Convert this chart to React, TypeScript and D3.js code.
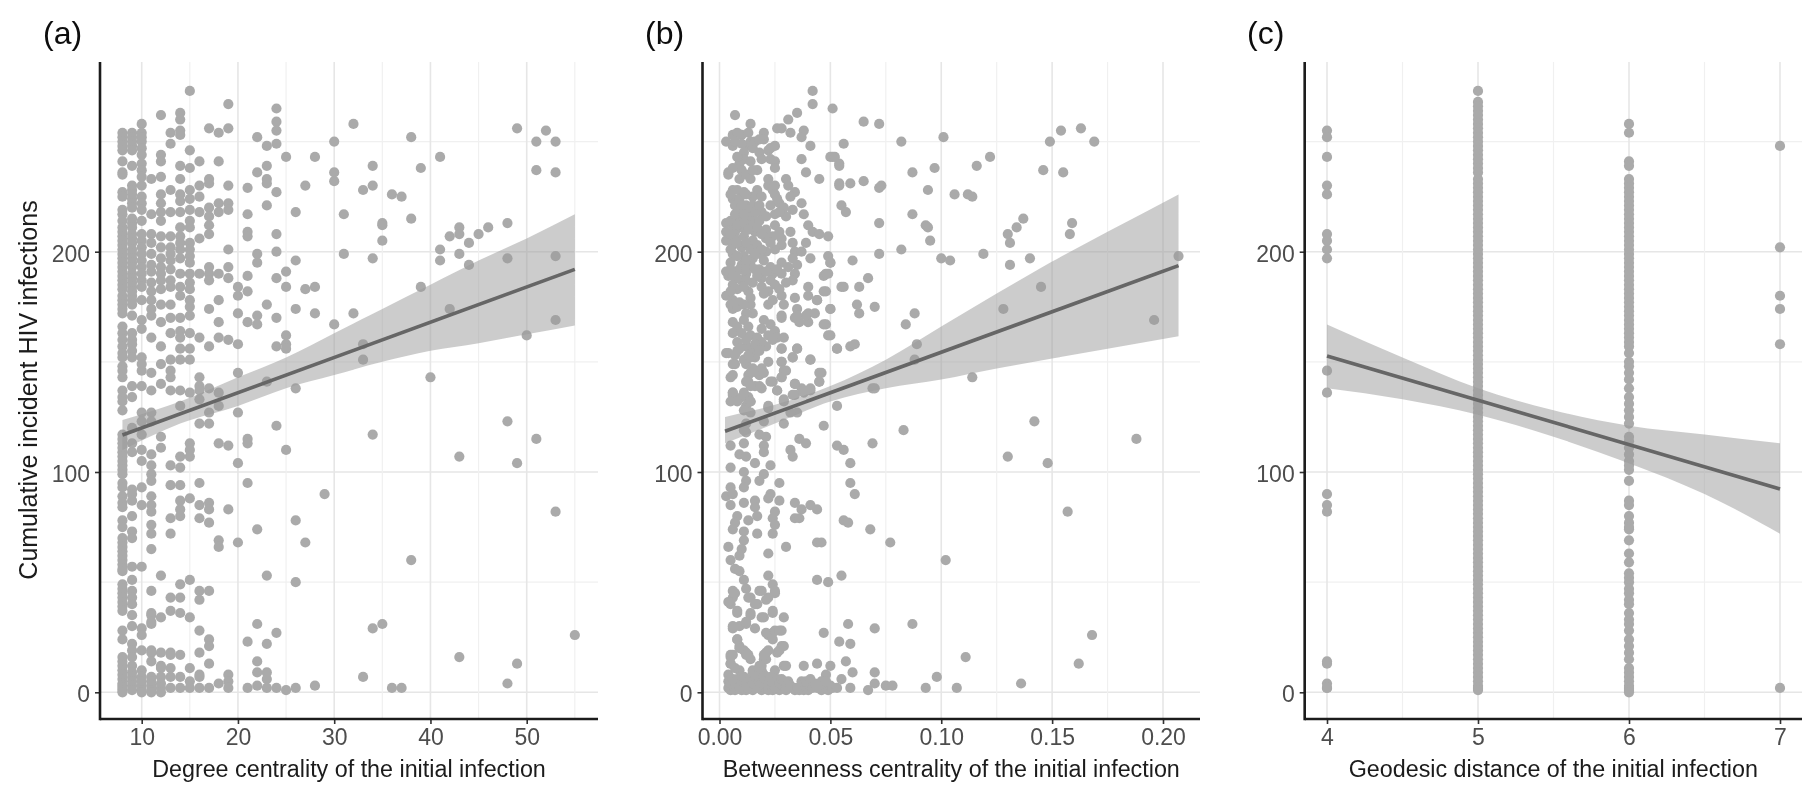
import { useEffect, useRef } from 'react'
import * as d3 from 'd3'

// panel (a): degree -> infections at that degree
const degreeColumns: [number, number[]][] = [
  [8, [254,252,250,248,246,241,236,235,227,225,219,217,214,211,209,207,205,203,201,199,197,195,193,191,189,187,185,183,180,178,176,174,172,166,163,160,157,154,152,148,146,143,137,134,132,128,117,115,113,111,109,107,105,103,101,99,95,93,89,86,84,78,75,70,68,66,64,62,60,58,56,55,49,47,45,43,41,39,37,28,24,16,14,12,10,8,6,4,3,2,1,0]],
  [9, [254,252,250,248,246,239,230,228,226,224,222,220,215,213,211,208,206,204,201,199,197,195,193,190,188,186,184,182,180,178,176,171,163,160,158,155,152,139,134,120,113,109,92,90,87,80,73,70,57,51,46,43,40,35,30,22,19,16,12,9,7,5,3,1]],
  [10, [258,254,252,250,247,244,240,237,234,230,225,222,219,214,208,205,202,199,196,193,190,187,184,178,169,165,152,149,146,139,127,123,117,110,105,93,85,57,29,26,19,10,7,5,3,1,0]],
  [11, [233,217,208,204,199,194,191,186,182,178,174,171,161,145,137,127,123,108,103,99,96,89,85,82,76,72,65,46,36,31,35,32,19,18,14,7,5,3,1,0]],
  [12, [262,244,241,234,226,222,218,214,207,202,197,193,190,187,183,176,168,157,149,140,116,111,53,34,18,12,11,7,4,2,0]],
  [13, [254,249,228,218,207,202,199,196,192,187,184,176,170,163,151,146,143,137,103,94,79,72,43,37,18,17,11,7,2]],
  [14, [263,260,255,253,239,233,226,223,218,211,207,204,201,197,190,184,180,170,164,161,156,151,137,130,107,102,94,87,83,80,49,43,36,17,7,2]],
  [15, [273,246,238,228,224,219,214,211,204,201,198,195,190,186,183,178,175,171,163,156,151,136,113,110,107,88,51,34,11,5,2]],
  [16, [241,230,225,218,206,190,161,143,139,137,133,122,95,85,79,46,42,28,18,8,7,2]],
  [17, [256,233,231,220,216,212,208,193,190,187,174,157,138,127,122,86,83,77,46,24,21,13,2]],
  [18, [254,241,222,218,190,178,168,161,136,130,113,69,66,4]],
  [19, [267,256,230,222,219,201,193,188,160,112,83,8,5,2]],
  [20, [184,180,172,158,145,127,104,68]],
  [21, [229,217,209,207,189,182,168,115,113,95,23,2]],
  [22, [252,236,199,195,171,167,74,31,14,9,3]],
  [23, [248,239,233,231,221,176,141,53,22,9,6,2]],
  [24, [265,259,255,249,227,208,200,188,170,157,121,27,2]],
  [25, [243,191,184,162,158,156,110,1]],
  [26, [218,196,174,138,78,50,2]],
  [27, [230,183,68]],
  [28, [243,184,172,3]],
  [29, [90]],
  [30, [250,236,232,167]],
  [31, [217,199]],
  [32, [258,172]],
  [33, [228,158,151,7]],
  [34, [239,230,197,117,29]],
  [35, [213,212,205,31]],
  [36, [226,2]],
  [37, [225,2]],
  [38, [252,215,60]],
  [39, [238,184]],
  [40, [143]],
  [41, [243,201,196]],
  [42, [207,174]],
  [43, [211,208,199,107,16]],
  [44, [204,194]],
  [45, [208]],
  [46, [211]],
  [48, [213,197,123,4]],
  [49, [256,104,13]],
  [50, [162]],
  [51, [250,237,115]],
  [52, [255]],
  [53, [250,236,198,169,82]],
  [55, [26]],
]

// panel (b): betweenness in thousandths, infections
const betweennessPoints: [number, number][] = [
  [7,262],[14,258],[31,260],[35,263],[26,256],[28,256],[32,254],[38,255],[37,252],[41,248],[37,242],[39,236],[45,233],[51,243],[54,240],
  [3,250],[6,253],[8,254],[6,248],[10,253],[13,254],[14,250],[20,254],[20,251],[12,248],[15,247],[25,248],[22,246],[18,245],[19,242],[11,245],[11,242],[9,240],[10,237],[4,236],[4,235],[9,233],[12,235],[14,233],[17,237],[23,242],[25,241],[25,238],
  [22,233],[30,233],[31,230],[22,230],[25,230],[24,228],[25,226],[34,227],[32,225],[37,222],[27,222],[29,220],[33,219],[30,216],[38,217],[25,217],
  [6,228],[6,224],[17,228],[15,225],[12,226],[9,224],[7,221],[9,219],[12,221],[15,221],[17,219],[19,218],[21,216],[12,216],[9,215],[15,215],[18,214],
  [3,213],[6,212],[3,209],[7,209],[10,211],[14,212],[16,209],[21,210],[25,212],[27,209],[32,209],[40,212],[42,209],[45,208],[49,207],[28,206],[24,207],[3,205],[7,206],[11,207],[15,205],[39,204],[33,204],[21,206],[28,203],[25,201],[21,200],[18,199],[6,203],[10,202],[14,201],[34,200],[37,200],[49,198],[6,199],[11,198],[15,197],[41,197],[20,196],[33,197],[50,195],[5,195],[10,194],[14,194],[28,195],[35,194],[23,193],
  [3,191],[7,191],[12,190],[18,192],[31,193],[49,190],[47,189],[24,190],[28,190],[34,190],[4,189],[10,187],[15,186],[19,188],[33,187],[6,185],[23,187],[30,186],[25,185],[19,184],[22,182],[40,184],[55,184],[13,182],[3,180],[28,180],[34,179],[48,182],[40,180],[6,178],[14,179],[9,177],[44,178],[6,174],[14,176],[22,176],[35,174],[50,174],[15,172],[40,172],[43,172],[28,170],[34,170],[36,168],[40,168],[6,168],[48,167],[20,169],[23,167],[8,166],[19,165],[25,164],[50,162],[6,163],[10,163],[14,162],[22,162],[26,161],[29,161],[8,159],[17,161],
  [12,157],[21,157],[28,156],[35,156],[53,156],[3,154],[8,155],[15,155],[33,152],[16,152],[41,151],[7,149],[12,149],[22,150],[28,150],[15,147],[19,147],[30,146],[6,144],[46,145],[13,144],[18,144],[28,143],[24,141],[45,141],[13,141],[16,139],[19,138],[34,140],[37,138],[41,138],[26,137],[6,136],[34,135],[38,136],[10,134],[13,134],[29,132],[14,132],[22,130],[12,130],[6,135],
  [42,273],[42,267],[51,265],[65,259],[72,258],[82,250],[101,252],[149,250],[56,249],[50,243],[52,243],[54,239],[87,236],[97,238],[116,239],[122,243],[146,237],[65,232],[59,231],[54,231],[54,230],[72,229],[73,230],[94,228],[106,226],[112,226],[114,225],[55,221],[57,218],[87,217],[72,213],[93,212],[94,211],[137,215],[134,211],[130,208],[131,204],[95,205],[82,201],[72,199],[119,199],[60,196],[100,197],[104,196],[140,197],[131,194],[67,188],[63,184],[56,184],[145,184],[47,182],[48,190],[50,195],[128,174],[88,172],[84,167],[70,175],[62,176],[63,172],[50,174],[47,167],[44,178],[39,171],[35,171],[28,171],
  [163,256],[169,250],[154,255],[155,236],[159,213],[158,208],[207,198],[196,169],[188,115],[157,82],[168,26],
  [49,162],[53,156],[59,157],[61,158],[35,156],[28,156],[41,151],[33,152],[28,150],[89,158],[88,151],[45,145],[45,141],[29,146],[28,143],[23,141],[26,137],[34,140],[38,137],[41,137],[33,135],[29,133],[69,138],[70,138],[114,143],[53,130],[22,129],[35,127],[32,127],[20,123],[29,122],[47,121],[83,119],[142,123],[69,113],[36,115],[39,113],[18,117],[21,116],[20,112],[20,109],[12,118],[11,113],[5,112],[32,110],[33,107],[53,112],[56,110],[59,104],[130,107],[148,104],[9,108],[12,107],[16,104],[23,103],[5,102],[11,100],[20,99],[18,96],[27,95],[59,95],[61,90],[12,96],[11,93],[5,93],[3,89],[6,90],[5,85],[23,90],[22,88],[11,86],[16,87],[16,84],[27,87],[34,86],[37,83],[41,85],[44,83],[25,82],[24,79],[17,80],[13,78],[8,80],[7,77],[34,79],[36,79],[56,78],[58,77],[68,74],[25,76],[6,74],[24,72],[17,72],[11,73],[11,69],[44,68],[46,68],[77,68],[30,66],[4,66],[10,65],[22,63],[9,62],[102,60],[5,60],[7,56],[9,55],[22,53],[55,53],[44,51],[49,50],[11,51],[12,47],[24,49],[25,45],[18,46],[6,43],[14,43],[22,43],[5,40],[17,40],[8,36],[24,36],[14,35],[20,34],[29,34],[58,31],[70,29],[87,31],[6,29],[9,30],[12,31],[16,29],[28,28],[24,27],[22,26],[47,27],[8,24],[54,23],[59,22],[28,21],[11,19],[13,17],[21,18],[26,18],[5,17],[20,15],[111,16],[5,13],[38,12],[44,13],[50,12],[57,14],[29,12],[19,12],
  [4,154],[7,153],[11,151],[6,149],[14,152],[5,143],[14,145],[17,145],[12,141],[6,136],[11,136],[5,132],[14,132],[11,128],[14,127],[8,132],[12,122],[11,119],[20,145],[18,139],[14,139],
  [8,24],[9,21],[12,18],[14,15],[5,16],[5,13],[9,10],[4,8],[15,10],[19,10],[21,15],[22,19],[25,10],[27,19],[29,21],[30,12],[48,8],[55,6],[60,9],[70,9],[98,7],[70,4],[75,3],[78,3],[67,1],[59,2],[93,2],[107,2],[136,4],[162,13],
  [4,2],[5,1],[6,3],[7,1],[8,2],[9,4],[10,1],[11,3],[12,1],[13,5],[14,2],[15,1],[16,3],[17,5],[18,2],[19,1],[20,4],[21,2],[22,1],[23,3],[24,1],[25,5],[26,2],[27,1],[28,3],[29,2],[30,1],[31,2],[36,1],[37,3],[38,1],[39,2],[40,1],[41,3],[42,2],[45,3],[46,1],[47,4],[48,2],[49,1],[50,3],[51,2],[53,2],
]

// second pass over the thick parts of the (b) cloud
const betweennessDense: [number, number][] = [
  [5,214],[8,212],[11,213],[13,210],[17,211],[19,208],[5,208],[8,204],[12,204],[17,203],[19,201],[23,204],[5,201],[8,198],[12,196],[16,199],[9,192],[12,192],[16,192],[5,192],[8,188],[12,187],[6,189],[17,189],[21,191],[26,192],[8,183],[11,184],[5,182],[27,183],[20,181],[24,178],[29,176],[5,176],[8,175],[11,176],[12,172],[11,169],[13,166],[24,160],[19,159],[16,158],[12,160],[9,156],[13,153],[18,155],
  [5,226],[8,228],[11,227],[10,221],[7,217],[13,219],[11,217],[16,218],[18,221],[19,225],[26,224],[27,218],[23,221],[6,238],[8,243],[14,241],[15,237],[7,250],[10,249],[16,250],[18,251],[23,247],
  [6,46],[4,41],[7,45],[13,43],[16,40],[21,42],[19,46],[25,46],[14,36],[19,34],[24,37],[6,30],[12,32],[21,27],[25,28],[27,28],[24,24],[8,37],[9,20],[12,17],[20,17],[18,12],[15,9],[6,17],[7,11],[18,9],[20,8],
  [4,5],[5,4],[6,6],[7,4],[8,6],[9,2],[10,5],[11,7],[12,4],[13,2],[14,6],[15,4],[16,7],[17,2],[18,5],[19,4],[20,7],[21,5],[22,4],[23,7],[24,4],[25,2],[26,6],[27,4],[28,6],[29,5],[30,4],[31,5],[32,3],[33,2],[34,1],[35,2],[37,5],[39,5],[41,6],[43,4],[44,2],[46,5],[48,5],
]

// panel (c): geodesic distance -> infections
const geodesicFour = [255,252,243,230,226,208,205,201,197,146,136,90,85,82,14,13,4,2,2]
const geodesicFive = [273,268,266,264,262,260,258,256,254,252,250,248,246,244,242,240,238,236,233,231,229,227,225,223,221,219,217,215,213,211,209,207,205,203,201,199,197,195,193,191,189,187,185,183,181,179,177,175,173,171,169,167,165,163,161,159,157,155,153,151,149,147,145,143,141,139,137,135,133,131,129,127,125,123,121,119,117,115,113,111,109,107,105,103,101,99,97,95,93,91,89,87,85,83,81,79,77,75,73,71,69,67,65,63,61,59,57,55,53,51,49,47,45,43,41,39,37,35,33,31,29,27,25,23,21,19,17,15,13,11,9,7,5,3,2,1]
const geodesicSix = [258,254,241,239,233,231,229,227,225,223,221,219,217,215,213,211,209,207,205,203,201,199,197,195,193,191,189,187,185,183,181,179,177,175,173,171,169,167,165,163,161,159,157,154,150,148,145,142,138,134,131,128,125,122,116,114,111,108,105,103,101,96,87,85,80,77,75,74,69,63,59,54,52,50,47,45,42,40,36,33,31,28,24,21,18,15,11,9,7,5,3,2,1,0]
const geodesicSeven = [248,202,180,174,158,2]

// fitted lines and 95% bands
const degreeBandX = [8,14,20,25,30,35,40,45,50,55]
const degreeBandUpper = [123.6,132,143,152,163,174,185,196,206,217]
const degreeBandLower = [110,122,130,138,144,150,155,158.5,162.5,166.5]
const degreeLine: [number, number][] = [[8,116.8],[55,192]]

const betweenBandX = [0.0025,0.025,0.05,0.075,0.1,0.125,0.15,0.175,0.207]
const betweenBandUpper = [125,130.5,139,151,166,181,195.5,209,226]
const betweenBandLower = [113,122,132,138,142,147,151.5,156,161.6]
const betweenLine: [number, number][] = [[0.0025,118.5],[0.207,193.7]]

const geoBandX = [4,4.5,5,5.5,6,6.5,7]
const geoBandUpper = [167,152,138,128,121,117,113]
const geoBandLower = [138,133,126,116,104,90,72]
const geoLine: [number, number][] = [[4,152.7],[7,92.3]]

const yTicks = [0,100,200]
const yMinor = [50,150,250]

const POINT = '#aaaaaa'
const FONT = '"Liberation Sans", Arial, sans-serif'

const W = 1812
const H = 796
const TOP = 62
const BOTTOM = 719
const yScale = d3.scaleLinear().domain([0,200]).range([692.3,251.7])

interface Panel {
  label: string
  labelX: number
  axisX: number
  rightX: number
  domain: [number, number]
  range: [number, number]
  ticks: number[]
  minor: number[]
  format: (d: number) => string
  title: string
  points: [number, number][]
  bandX: number[]
  upper: number[]
  lower: number[]
  line: [number, number][]
}

const panels: Panel[] = [
  {
    label: '(a)', labelX: 43, axisX: 100, rightX: 598,
    domain: [10,50], range: [141.7,526.7],
    ticks: [10,20,30,40,50], minor: [15,25,35,45,55],
    format: d => String(d),
    title: 'Degree centrality of the initial infection',
    points: degreeColumns.flatMap(([x, ys]) => ys.map(y => [x, y] as [number, number])),
    bandX: degreeBandX, upper: degreeBandUpper, lower: degreeBandLower, line: degreeLine,
  },
  {
    label: '(b)', labelX: 645, axisX: 702.5, rightX: 1200,
    domain: [0,0.2], range: [719.5,1163],
    ticks: [0,0.05,0.1,0.15,0.2], minor: [0.025,0.075,0.125,0.175],
    format: d => d.toFixed(2),
    title: 'Betweenness centrality of the initial infection',
    points: [...betweennessPoints, ...betweennessDense].map(([x, y]) => [x / 1000, y] as [number, number]),
    bandX: betweenBandX, upper: betweenBandUpper, lower: betweenBandLower, line: betweenLine,
  },
  {
    label: '(c)', labelX: 1247, axisX: 1304.7, rightX: 1802,
    domain: [4,7], range: [1327,1780],
    ticks: [4,5,6,7], minor: [4.5,5.5,6.5],
    format: d => String(d),
    title: 'Geodesic distance of the initial infection',
    points: [
      ...geodesicFour.map(y => [4, y] as [number, number]),
      ...geodesicFive.map(y => [5, y] as [number, number]),
      ...geodesicSix.map(y => [6, y] as [number, number]),
      ...geodesicSeven.map(y => [7, y] as [number, number]),
    ],
    bandX: geoBandX, upper: geoBandUpper, lower: geoBandLower, line: geoLine,
  },
]

export default function App() {
  const svgRef = useRef<SVGSVGElement>(null)

  useEffect(() => {
    if (!svgRef.current) return
    const svg = d3.select(svgRef.current)
    svg.selectAll('*').remove()

    // the source is a slightly soft raster
    svg.append('defs').append('filter').attr('id', 'soft')
      .append('feGaussianBlur').attr('stdDeviation', 0.55)
    const root = svg.append('g').attr('filter', 'url(#soft)')

    panels.forEach(p => {
      const x = d3.scaleLinear().domain(p.domain).range(p.range)
      const g = root.append('g')

      // Grid
      yMinor.forEach(v => {
        g.append('line').attr('x1', p.axisX).attr('x2', p.rightX).attr('y1', yScale(v)).attr('y2', yScale(v))
          .attr('stroke', '#f0f0f0').attr('stroke-width', 1.2)
      })
      yTicks.forEach(v => {
        g.append('line').attr('x1', p.axisX).attr('x2', p.rightX).attr('y1', yScale(v)).attr('y2', yScale(v))
          .attr('stroke', '#e6e6e6').attr('stroke-width', 1.6)
      })
      p.minor.forEach(v => {
        g.append('line').attr('x1', x(v)).attr('x2', x(v)).attr('y1', TOP).attr('y2', BOTTOM)
          .attr('stroke', '#f0f0f0').attr('stroke-width', 1.2)
      })
      p.ticks.forEach(v => {
        g.append('line').attr('x1', x(v)).attr('x2', x(v)).attr('y1', TOP).attr('y2', BOTTOM)
          .attr('stroke', '#e6e6e6').attr('stroke-width', 1.6)
      })

      // Points
      g.append('g').selectAll('circle').data(p.points).join('circle')
        .attr('cx', d => x(d[0])).attr('cy', d => yScale(d[1]))
        .attr('r', 5.1).attr('fill', POINT)

      // Confidence band and fit
      const area = d3.area<number>()
        .x(d => x(d))
        .y0((_, i) => yScale(p.lower[i]))
        .y1((_, i) => yScale(p.upper[i]))
        .curve(d3.curveMonotoneX)
      g.append('path').attr('d', area(p.bandX)).attr('fill', '#999999').attr('fill-opacity', 0.5)
      const line = d3.line<[number, number]>().x(d => x(d[0])).y(d => yScale(d[1]))
      g.append('path').attr('d', line(p.line)).attr('fill', 'none')
        .attr('stroke', '#666666').attr('stroke-width', 3.6)

      // Axes
      const yAxis = d3.axisLeft(yScale.copy()).tickValues(yTicks).tickSize(5).tickPadding(5)
      const yG = g.append('g').attr('transform', `translate(${p.axisX},0)`).call(yAxis)
      yG.select('.domain').remove()
      yG.selectAll('line').attr('stroke', '#333333').attr('stroke-width', 1.6)
      yG.selectAll('text').attr('fill', '#4d4d4d').attr('font-size', '23px').attr('font-family', FONT)
        .attr('dy', '0.42em')

      const xAxis = d3.axisBottom(x).tickValues(p.ticks).tickFormat(d => p.format(+d)).tickSize(5).tickPadding(5)
      const xG = g.append('g').attr('transform', `translate(0,${BOTTOM})`).call(xAxis)
      xG.select('.domain').remove()
      xG.selectAll('line').attr('stroke', '#333333').attr('stroke-width', 1.6)
      xG.selectAll('text').attr('fill', '#4d4d4d').attr('font-size', '23px').attr('font-family', FONT)

      g.append('line').attr('x1', p.axisX).attr('x2', p.axisX).attr('y1', TOP).attr('y2', BOTTOM + 1.2)
        .attr('stroke', '#1a1a1a').attr('stroke-width', 2.6)
      g.append('line').attr('x1', p.axisX).attr('x2', p.rightX).attr('y1', BOTTOM).attr('y2', BOTTOM)
        .attr('stroke', '#1a1a1a').attr('stroke-width', 2.6)

      // Titles
      g.append('text').attr('x', (p.axisX + p.rightX) / 2).attr('y', 777)
        .attr('text-anchor', 'middle').attr('fill', '#1a1a1a')
        .attr('font-size', '23.3px').attr('font-family', FONT).text(p.title)
      g.append('text').attr('x', p.labelX).attr('y', 44)
        .attr('fill', '#111111').attr('font-size', '32px').attr('font-family', FONT).text(p.label)
    })

    root.append('text')
      .attr('transform', 'translate(37,390) rotate(-90)')
      .attr('text-anchor', 'middle').attr('fill', '#1a1a1a')
      .attr('font-size', '25px').attr('font-family', FONT)
      .text('Cumulative incident HIV infections')
  }, [])

  return (
    <svg ref={svgRef} width={W} height={H} viewBox={`0 0 ${W} ${H}`}
      style={{ position: 'absolute', left: 0, top: 0, background: '#ffffff' }} />
  )
}
